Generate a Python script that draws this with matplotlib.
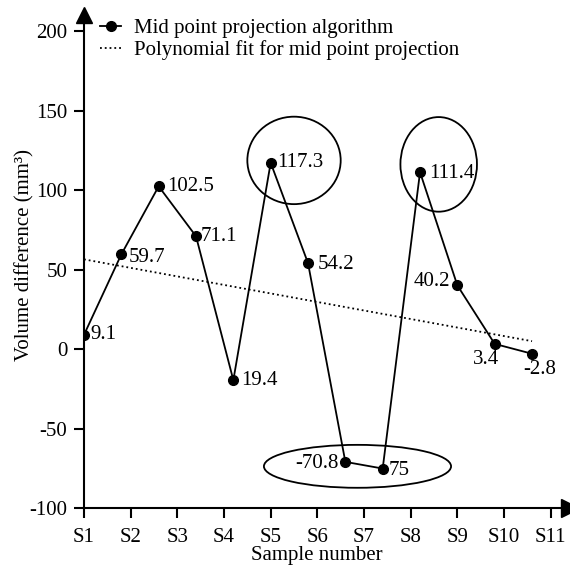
import numpy as np
import matplotlib.pyplot as plt
from matplotlib.patches import Ellipse

plt.rcParams['font.family'] = ['Liberation Serif', 'DejaVu Serif']
plt.rcParams['font.size'] = 15
plt.rcParams['axes.unicode_minus'] = False

# data
values = [9.1, 59.7, 102.5, 71.1, -19.4, 117.3, 54.2, -70.8, -75.0, 111.4, 40.2, 3.4, -2.8]
point_labels = ['9.1', '59.7', '102.5', '71.1', '19.4', '117.3', '54.2',
                '-70.8', '75', '111.4', '40.2', '3.4', '-2.8']
sample_ticks = ['S1', 'S2', 'S3', 'S4', 'S5', 'S6', 'S7', 'S8', 'S9', 'S10', 'S11']
y_ticks = [-100, -50, 0, 50, 100, 150, 200]

# samples are spaced 0.8 of a tick apart
x = 1 + 0.8 * np.arange(len(values))

# label offsets (pixels) and alignment
label_offsets = [(6, 0), (7, -3), (8, 0), (5, 0), (8, 0), (6, 0), (10, -1),
                 (-7, -2), (6, -2), (9, -1), (-7, 4), (-9, -16), (8, -16)]
label_ha = ['left', 'left', 'left', 'left', 'left', 'left', 'left',
            'right', 'left', 'left', 'right', 'center', 'center']

fig = plt.figure(figsize=(5.70, 5.73), dpi=100)
ax = fig.add_axes([84 / 570, 1 - 508.3 / 573, 486 / 570, 493.3 / 573])

ax.plot(x, values, '-o', color='black', lw=1.3, ms=7,
        label='Mid point projection algorithm')

coef = np.polyfit(x, values, 1)
xf = np.array([x[0], x[-1]])
ax.plot(xf, np.polyval(coef, xf), ':', color='black', lw=1.3,
        label='Polynomial fit for mid point projection')

for xi, yi, txt, off, ha in zip(x, values, point_labels, label_offsets, label_ha):
    ax.annotate(txt, (xi, yi), xytext=off, textcoords='offset pixels',
                ha=ha, va='center')

# highlight ellipses
for cx, cy, w, h in [(5.50, 118.8, 2.0, 55.0), (8.60, 116.3, 1.64, 59.5), (6.86, -73.6, 4.01, 27.0)]:
    ax.add_patch(Ellipse((cx, cy), w, h, fill=False, ec='black', lw=1.3))

ax.set_xlim(1, 1 + 486 / 46.67)
ax.set_ylim(-100, -100 + 493.3 / 1.59)
ax.set_xticks(range(1, 12))
ax.set_xticklabels(sample_ticks)
ax.set_yticks(y_ticks)

for s in ['top', 'right']:
    ax.spines[s].set_visible(False)
for s in ['left', 'bottom']:
    ax.spines[s].set_linewidth(1.5)
ax.tick_params(width=1.5, length=7, labelsize=15)
ax.tick_params(axis='x', pad=7)
ax.tick_params(axis='y', pad=5)

# arrow heads on axes
ax.plot(1, 0, '>k', ms=13, transform=ax.transAxes, clip_on=False)
ax.plot(0, 1, '^k', ms=12, transform=ax.transAxes, clip_on=False)

ax.set_xlabel('Sample number')
ax.xaxis.set_label_coords(0.48, -0.076)
ax.set_ylabel('Volume difference (mm³)')
ax.yaxis.set_label_coords(-0.101, 0.514)

ax.legend(loc='upper left', bbox_to_anchor=(90 / 570, 1 - 8 / 573),
          bbox_transform=fig.transFigure, frameon=False, borderpad=0,
          handlelength=1.0, handletextpad=0.6, labelspacing=0.1)

fig.savefig('out.png', dpi=100)
